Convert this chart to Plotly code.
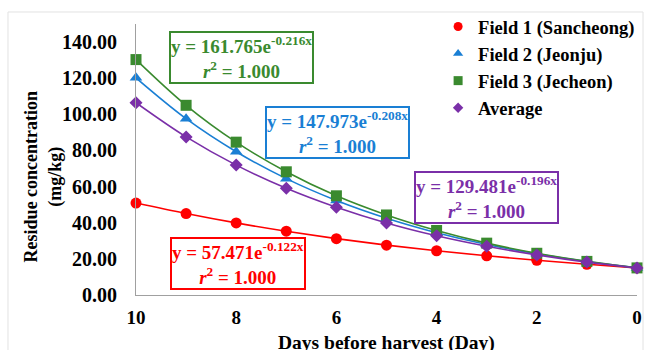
import plotly.graph_objects as go

days = [10, 9, 8, 7, 6, 5, 4, 3, 2, 1, 0]
field1 = [50.9, 45.1, 39.9, 35.3, 31.2, 27.6, 24.5, 21.7, 19.2, 17.0, 15.0]
field2 = [120.2, 97.6, 79.3, 64.4, 52.3, 42.5, 34.5, 28.0, 22.8, 18.5, 15.0]
field3 = [130.3, 105.0, 84.6, 68.2, 54.9, 44.3, 35.7, 28.7, 23.1, 18.6, 15.0]
average = [106.4, 87.5, 71.9, 59.1, 48.6, 39.9, 32.8, 27.0, 22.2, 18.2, 15.0]

names = ["Field 1 (Sancheong)", "Field 2 (Jeonju)", "Field 3 (Jecheon)", "Average"]
series = [field1, field2, field3, average]
colors = ["#FF0000", "#1A7FD4", "#3A8A2F", "#7A2FA8"]
symbols = ["circle", "triangle-up", "square", "diamond"]
sizes = [11, 11, 11, 10]
legend_sizes = [9, 9, 9, 8]

eq_coef = ["57.471", "147.973", "161.765", "129.481"]
eq_rate = ["-0.122", "-0.208", "-0.216", "-0.196"]
eq_r2 = ["1.000", "1.000", "1.000", "1.000"]
# annotation anchor positions (data coords)
eq_x = [7.96, 5.97, 7.9, 3.0]
eq_y = [17.7, 90.2, 131.7, 53.7]

FONT = "Liberation Serif, Times New Roman, serif"

fig = go.Figure()

for name, ys, col, sym, sz in zip(names, series, colors, symbols, sizes):
    fig.add_trace(go.Scatter(
        x=days, y=ys, mode="lines", line=dict(color=col, width=1.6, shape="spline"),
        showlegend=False, hoverinfo="skip", cliponaxis=False))
    fig.add_trace(go.Scatter(
        x=days, y=ys, mode="markers", name=name, showlegend=False,
        marker=dict(color=col, symbol=sym, size=sz), cliponaxis=False))

# legend entries (marker only, smaller symbol as in the reference)
for name, col, sym, lsz in zip(names, colors, symbols, legend_sizes):
    fig.add_trace(go.Scatter(
        x=[None], y=[None], mode="markers", name=name,
        marker=dict(color=col, symbol=sym, size=lsz)))

for coef, rate, r2, col, ax, ay in zip(eq_coef, eq_rate, eq_r2, colors, eq_x, eq_y):
    fig.add_annotation(
        x=ax, y=ay, xref="x", yref="y", showarrow=False,
        text=f"y = {coef}e<sup>{rate}x</sup><br><i>r</i><sup>2</sup> = {r2}",
        font=dict(family=FONT, size=19, color=col, weight="bold"),
        bordercolor=col, borderwidth=2, borderpad=0, bgcolor="white", align="center")

fig.add_annotation(
    x=-0.186, y=0.437, xref="paper", yref="paper", showarrow=False, textangle=-90,
    xanchor="center", yanchor="middle",
    text="Residue concentration<br>(mg/kg)",
    font=dict(family=FONT, size=18, color="black", weight="bold"))
fig.add_annotation(
    x=0.5, y=-0.177, xref="paper", yref="paper", showarrow=False,
    xanchor="center", yanchor="middle",
    text="Days before harvest (Day)",
    font=dict(family=FONT, size=19.5, color="black", weight="bold"))

fig.add_shape(type="rect", xref="paper", yref="paper",
              x0=-0.2555, x1=1.012, y0=-0.3, y1=1.0443,
              line=dict(color="#E2E2E2", width=1), layer="below")

fig.update_layout(
    width=646, height=350,
    margin=dict(l=136, r=9, t=24, b=55, autoexpand=False),
    paper_bgcolor="white", plot_bgcolor="white",
    font=dict(family=FONT, color="black"),
    legend=dict(x=0.603, y=1.059, xanchor="left", yanchor="top",
                font=dict(family=FONT, size=18.5, color="black", weight="bold"),
                bgcolor="rgba(0,0,0,0)", tracegroupgap=0, itemwidth=30),
    xaxis=dict(range=[10, 0], tickvals=[10, 8, 6, 4, 2, 0], showgrid=False, zeroline=False,
               showline=True, linecolor="#A0A0A0", linewidth=1.2, ticks="",
               ticklabelstandoff=5,
               tickfont=dict(family=FONT, size=19, color="black", weight="bold")),
    yaxis=dict(range=[0, 150], dtick=20, tick0=0, tickformat=".2f", showgrid=False, zeroline=False,
               showline=True, linecolor="#A0A0A0", linewidth=1.2, ticks="",
               ticklabelstandoff=14,
               tickfont=dict(family=FONT, size=20, color="black", weight="bold")),
)

fig.write_html(
    "out.html",
    config={"displayModeBar": False},
    post_script="document.documentElement.style.overflow='hidden';"
                "document.body.style.margin='0';document.body.style.overflow='hidden';",
)
